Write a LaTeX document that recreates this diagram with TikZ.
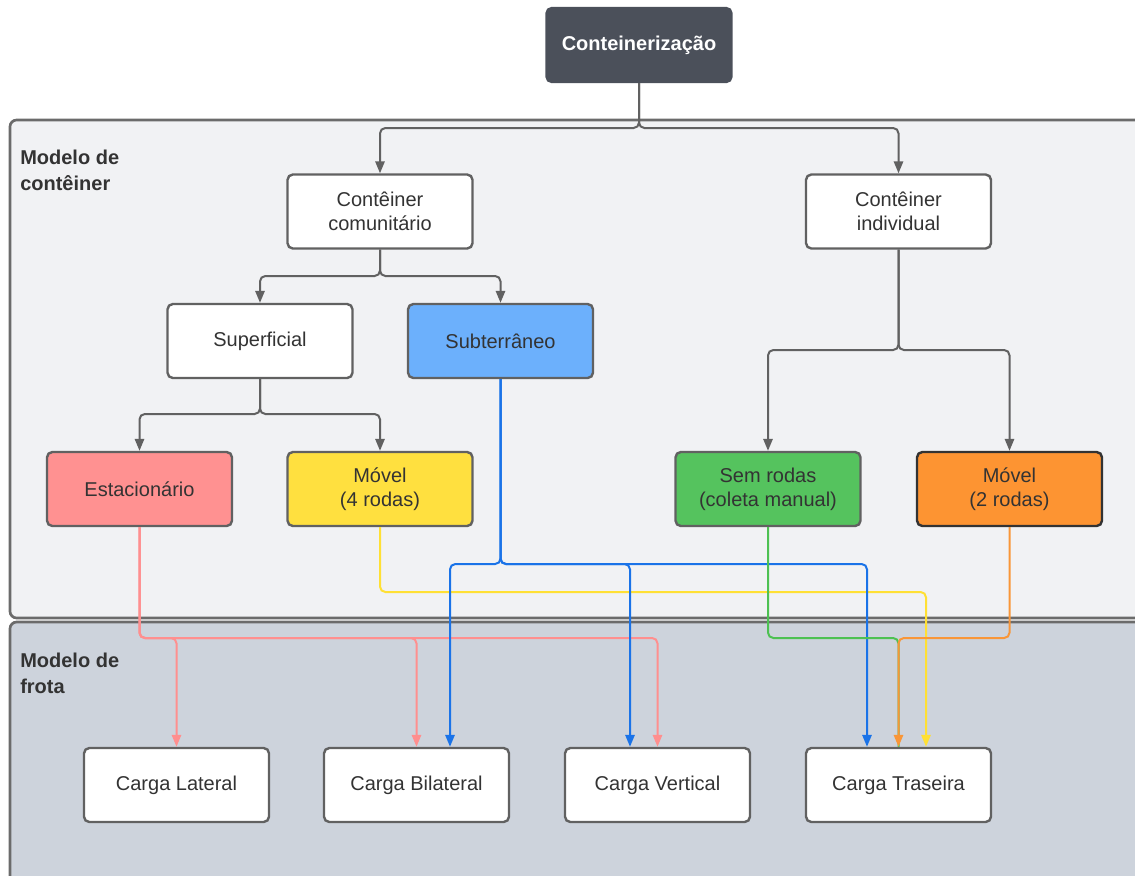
\documentclass[tikz,border=0pt]{standalone}
\usepackage{fontspec}
\setmainfont{Liberation Sans}
\usetikzlibrary{arrows.meta}

\definecolor{ink}{HTML}{333333}
\definecolor{edge}{HTML}{616161}
\definecolor{topfill}{HTML}{4B505A}
\definecolor{zoneA}{HTML}{F1F2F4}
\definecolor{zoneB}{HTML}{CDD3DC}
\definecolor{zoneline}{HTML}{6B6B6B}
\definecolor{bluefill}{HTML}{6CB0FC}
\definecolor{pinkfill}{HTML}{FF9191}
\definecolor{yellowfill}{HTML}{FFE03F}
\definecolor{greenfill}{HTML}{55C35E}
\definecolor{orangefill}{HTML}{FD9432}
\definecolor{blueline}{HTML}{1A73E8}
\definecolor{pinkline}{HTML}{FF8F8F}
\definecolor{yellowline}{HTML}{FFE034}
\definecolor{greenline}{HTML}{4DC152}
\definecolor{orangeline}{HTML}{F99638}

\tikzset{
  box/.style={draw=edge, line width=1.8pt, rounded corners=4pt, fill=white,
    minimum width=138.75pt, minimum height=55.5pt, align=center, text=ink,
    font=\fontsize{15}{18}\selectfont, inner sep=2pt},
  zone/.style={draw=zoneline, line width=2pt, rounded corners=5pt},
  zonelabel/.style={anchor=north west, inner sep=0pt, align=left, text=ink,
    font=\fontsize{15}{19}\selectfont\bfseries},
  link/.style={rounded corners=4pt, line width=1.5pt},
  glink/.style={link, draw=edge, -{Triangle[length=9pt,width=7pt]}},
  clink/.style={link, draw=#1, -{Triangle[length=9pt,width=7pt,#1]}},
  plink/.style={link, draw=#1},
}

\begin{document}
\begin{tikzpicture}[x=0.75pt, y=-0.75pt]
  \useasboundingbox (0,0) rectangle (1135,875);
  \clip (0,0) rectangle (1135,875);

  % the two layers
  \draw[zone, fill=zoneA] (10,120) rectangle (1170,618);
  \draw[zone, fill=zoneB] (10,622) rectangle (1170,910);
  \node[zonelabel] (lblA) at (20,150) {Modelo de\\contêiner};
  \node[zonelabel] (lblB) at (20,653) {Modelo de\\frota};

  % hierarchy
  \node[box, draw=topfill, fill=topfill, text=white, font=\fontsize{15}{18}\selectfont\bfseries]
    (top) at (639,45) {Conteinerização};
  \node[box] (comm) at (380,211.5) {Contêiner\\comunitário};
  \node[box] (indiv) at (898.5,211.5) {Contêiner\\individual};
  \node[box] (surf) at (260,341) {Superficial};
  \node[box, fill=bluefill] (sub) at (500.5,341) {Subterrâneo};
  \node[box, fill=pinkfill] (est) at (139.5,489) {Estacionário};
  \node[box, fill=yellowfill] (mov4) at (380,489) {Móvel\\(4 rodas)};
  \node[box, fill=greenfill] (sem) at (768,489) {Sem rodas\\(coleta manual)};
  \node[box, fill=orangefill, draw=ink] (mov2) at (1009.5,489) {Móvel\\(2 rodas)};

  % fleet types
  \node[box] (lat) at (176.5,785) {Carga Lateral};
  \node[box] (bil) at (416.5,785) {Carga Bilateral};
  \node[box] (vert) at (657.5,785) {Carga Vertical};
  \node[box] (tra) at (898.5,785) {Carga Traseira};

  % grey tree connectors
  \draw[glink] (top.south) -- (top.south |- 0,128) -| (comm.north);
  \draw[glink] (top.south) -- (top.south |- 0,128) -| (indiv.north);
  \draw[glink] (comm.south) -- (comm.south |- 0,276) -| (surf.north);
  \draw[glink] (comm.south) -- (comm.south |- 0,276) -| (sub.north);
  \draw[glink] (indiv.south) -- (indiv.south |- 0,350) -| (sem.north);
  \draw[glink] (indiv.south) -- (indiv.south |- 0,350) -| (mov2.north);
  \draw[glink] (surf.south) -- (surf.south |- 0,414) -| (est.north);
  \draw[glink] (surf.south) -- (surf.south |- 0,414) -| (mov4.north);

  % stationary -> lateral, bilateral, vertical
  \draw[clink=pinkline] (est.south) -- (est.south |- 0,638) -| (lat.north);
  \draw[clink=pinkline] (est.south) -- (est.south |- 0,638) -| (bil.north);
  \draw[clink=pinkline] (est.south) -- (est.south |- 0,638) -| (vert.north);

  % mobile 4 wheels -> rear
  \draw[clink=yellowline] (mov4.south) -- (mov4.south |- 0,592) -| (tra.north -| 926,0);

  % underground -> bilateral, vertical, rear
  \draw[clink=blueline] (sub.south) -- (sub.south |- 0,564) -| (bil.north -| 450,0);
  \draw[clink=blueline] (sub.south) -- (sub.south |- 0,564) -| (vert.north -| 630,0);
  \draw[clink=blueline] (sub.south) -- (sub.south |- 0,564) -| (tra.north -| 867,0);

  % no wheels and 2 wheels -> rear
  \draw[plink=greenline] (sem.south) -- (sem.south |- 0,638) -| (tra.north);
  \draw[clink=orangeline] (mov2.south) -- (mov2.south |- 0,638) -| (tra.north);
\end{tikzpicture}
\end{document}
